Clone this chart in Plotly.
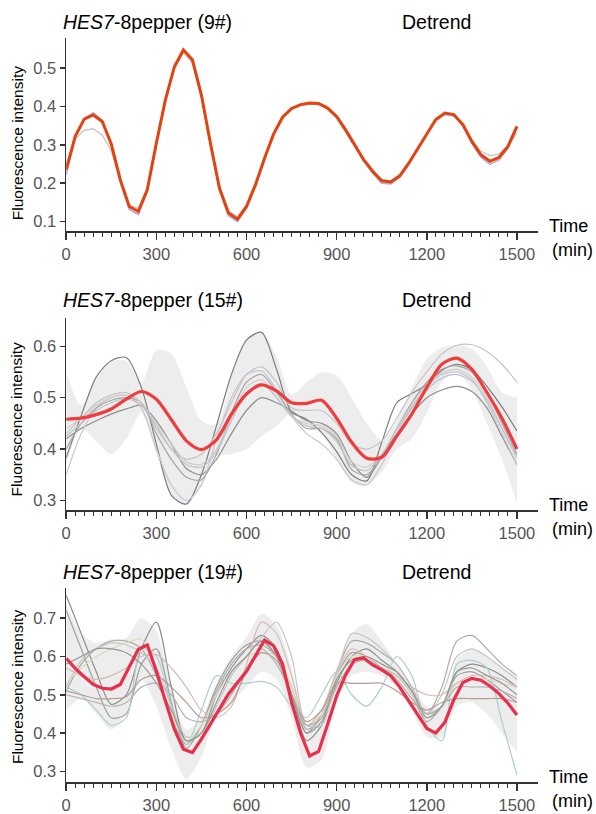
import plotly.graph_objects as go

W, H = 596, 814

# ---------------- data ----------------
TIME_30 = list(range(0, 1501, 30))
TIME_50 = list(range(0, 1501, 50))
X_TICKS = [0, 300, 600, 900, 1200, 1500]
X_TICK_TEXT = ["0", "300", "600", "900", "1200", "1500"]

# Panel 1 (9#)
P1_MAIN = [0.235, 0.322, 0.367, 0.378, 0.361, 0.302, 0.209, 0.139, 0.126, 0.183,
           0.304, 0.417, 0.504, 0.548, 0.522, 0.430, 0.304, 0.187, 0.122, 0.106,
           0.139, 0.196, 0.265, 0.328, 0.372, 0.395, 0.405, 0.409, 0.408, 0.396,
           0.374, 0.339, 0.300, 0.261, 0.231, 0.206, 0.203, 0.219, 0.252, 0.290,
           0.331, 0.366, 0.383, 0.379, 0.353, 0.309, 0.274, 0.257, 0.267, 0.296, 0.348]
P1_GRAY = [0.250, 0.315, 0.338, 0.342, 0.326, 0.285, 0.205, 0.142, 0.134, 0.185,
           0.300, 0.412, 0.498, 0.540, 0.515, 0.425, 0.302, 0.190, 0.128, 0.112,
           0.142, 0.197, 0.265, 0.327, 0.370, 0.393, 0.403, 0.406, 0.405, 0.393,
           0.372, 0.337, 0.299, 0.261, 0.232, 0.209, 0.206, 0.221, 0.253, 0.290,
           0.330, 0.363, 0.378, 0.375, 0.352, 0.312, 0.283, 0.272, 0.276, 0.298, 0.330]
P1_PURPLE = [0.222, 0.318, 0.368, 0.384, 0.364, 0.300, 0.203, 0.131, 0.118, 0.178,
             0.302, 0.416, 0.503, 0.546, 0.520, 0.427, 0.300, 0.182, 0.115, 0.100,
             0.134, 0.192, 0.262, 0.326, 0.370, 0.393, 0.404, 0.408, 0.407, 0.394,
             0.371, 0.335, 0.296, 0.257, 0.226, 0.200, 0.198, 0.215, 0.249, 0.288,
             0.329, 0.364, 0.381, 0.376, 0.349, 0.304, 0.268, 0.249, 0.260, 0.291, 0.345]

# Panel 2 (15#)
P2_MEAN = [0.458, 0.460, 0.467, 0.478, 0.497, 0.512, 0.497, 0.457, 0.416, 0.399,
           0.418, 0.468, 0.507, 0.525, 0.513, 0.490, 0.489, 0.495, 0.460, 0.413,
           0.382, 0.384, 0.425, 0.468, 0.520, 0.565, 0.577, 0.555, 0.510, 0.460, 0.400]
P2_UPPER = [0.550, 0.485, 0.535, 0.570, 0.572, 0.530, 0.592, 0.585, 0.520, 0.455,
            0.448, 0.540, 0.615, 0.628, 0.580, 0.506, 0.530, 0.549, 0.543, 0.500,
            0.450, 0.418, 0.455, 0.520, 0.575, 0.598, 0.602, 0.595, 0.560, 0.510, 0.500]
P2_LOWER = [0.370, 0.440, 0.415, 0.390, 0.420, 0.470, 0.390, 0.310, 0.290, 0.330,
            0.385, 0.390, 0.400, 0.425, 0.445, 0.470, 0.445, 0.430, 0.380, 0.335,
            0.330, 0.355, 0.400, 0.420, 0.470, 0.530, 0.550, 0.515, 0.450, 0.380, 0.295]
P2_LINES = {
    "#7c7c7c": [0.383, 0.465, 0.540, 0.572, 0.578, 0.520, 0.410, 0.310, 0.293, 0.350,
                0.445, 0.545, 0.612, 0.627, 0.555, 0.472, 0.458, 0.432, 0.395, 0.350,
                0.338, 0.413, 0.490, 0.508, 0.525, 0.553, 0.565, 0.555, 0.522, 0.482, 0.435],
    "#8e8e8e": [0.420, 0.440, 0.455, 0.468, 0.478, 0.485, 0.455, 0.410, 0.362, 0.350,
                0.380, 0.430, 0.475, 0.500, 0.490, 0.474, 0.455, 0.450, 0.430, 0.375,
                0.345, 0.385, 0.430, 0.468, 0.500, 0.515, 0.522, 0.512, 0.480, 0.425, 0.370],
    "#c4c4c4": [0.430, 0.460, 0.490, 0.505, 0.510, 0.490, 0.440, 0.400, 0.380, 0.390,
                0.430, 0.490, 0.545, 0.560, 0.530, 0.480, 0.475, 0.475, 0.450, 0.410,
                0.400, 0.415, 0.460, 0.510, 0.550, 0.585, 0.602, 0.603, 0.590, 0.565, 0.530],
    "#cbc3d2": [0.350, 0.430, 0.480, 0.500, 0.505, 0.480, 0.400, 0.330, 0.300, 0.330,
                0.420, 0.500, 0.545, 0.552, 0.515, 0.465, 0.430, 0.410, 0.380, 0.340,
                0.330, 0.370, 0.430, 0.480, 0.520, 0.545, 0.550, 0.535, 0.490, 0.430, 0.370],
    "#a4a4a4": [0.400, 0.450, 0.480, 0.495, 0.500, 0.490, 0.430, 0.380, 0.345, 0.340,
                0.390, 0.470, 0.530, 0.545, 0.510, 0.468, 0.440, 0.440, 0.420, 0.360,
                0.350, 0.385, 0.440, 0.490, 0.530, 0.555, 0.562, 0.550, 0.510, 0.450, 0.390],
    "#d2ccc4": [0.440, 0.460, 0.485, 0.500, 0.505, 0.490, 0.450, 0.410, 0.375, 0.370,
                0.400, 0.460, 0.520, 0.535, 0.500, 0.463, 0.450, 0.445, 0.425, 0.375,
                0.365, 0.390, 0.440, 0.485, 0.525, 0.548, 0.555, 0.540, 0.500, 0.440, 0.380],
    "#bcc2cf": [0.425, 0.450, 0.475, 0.490, 0.498, 0.485, 0.445, 0.400, 0.370, 0.365,
                0.395, 0.455, 0.510, 0.528, 0.500, 0.466, 0.445, 0.440, 0.415, 0.368,
                0.358, 0.388, 0.438, 0.480, 0.515, 0.538, 0.545, 0.532, 0.495, 0.440, 0.385],
}

# Panel 3 (19#)
P3_MEAN = [0.595, 0.569, 0.547, 0.527, 0.517, 0.515, 0.527, 0.571, 0.619, 0.630,
           0.562, 0.484, 0.410, 0.358, 0.349, 0.384, 0.423, 0.462, 0.502, 0.532,
           0.561, 0.602, 0.643, 0.628, 0.580, 0.480, 0.400, 0.340, 0.352, 0.423,
           0.497, 0.552, 0.592, 0.596, 0.578, 0.565, 0.550, 0.520, 0.485, 0.448,
           0.412, 0.400, 0.428, 0.487, 0.532, 0.543, 0.538, 0.523, 0.503, 0.478, 0.447]
P3_UPPER = [0.740, 0.660, 0.635, 0.645, 0.648, 0.700, 0.665, 0.520, 0.410, 0.440,
            0.530, 0.600, 0.650, 0.712, 0.680, 0.570, 0.420, 0.440, 0.570, 0.660,
            0.685, 0.640, 0.580, 0.520, 0.470, 0.470, 0.590, 0.620, 0.600, 0.570, 0.550]
P3_LOWER = [0.460, 0.490, 0.450, 0.410, 0.450, 0.540, 0.470, 0.360, 0.280, 0.340,
            0.440, 0.480, 0.520, 0.560, 0.540, 0.440, 0.310, 0.330, 0.480, 0.550,
            0.560, 0.550, 0.520, 0.460, 0.390, 0.390, 0.470, 0.480, 0.450, 0.400, 0.350]
P3_LINES = {
    "#8e8e8e": [0.760, 0.660, 0.560, 0.475, 0.500, 0.620, 0.690, 0.520, 0.380, 0.400,
                0.500, 0.570, 0.620, 0.655, 0.620, 0.500, 0.380, 0.420, 0.530, 0.600,
                0.620, 0.590, 0.560, 0.510, 0.450, 0.470, 0.560, 0.580, 0.570, 0.550, 0.520],
    "#a0a0a0": [0.720, 0.620, 0.520, 0.440, 0.450, 0.580, 0.620, 0.480, 0.360, 0.420,
                0.520, 0.590, 0.630, 0.640, 0.600, 0.490, 0.400, 0.450, 0.550, 0.610,
                0.600, 0.570, 0.550, 0.500, 0.430, 0.470, 0.550, 0.560, 0.540, 0.510, 0.480],
    "#aaaaaa": [0.510, 0.580, 0.620, 0.640, 0.640, 0.620, 0.550, 0.440, 0.370, 0.420,
                0.510, 0.580, 0.620, 0.630, 0.600, 0.520, 0.410, 0.440, 0.560, 0.640,
                0.635, 0.610, 0.580, 0.520, 0.450, 0.520, 0.640, 0.655, 0.620, 0.580, 0.550],
    "#c6c6c6": [0.520, 0.590, 0.620, 0.635, 0.630, 0.610, 0.570, 0.470, 0.390, 0.400,
                0.470, 0.550, 0.600, 0.650, 0.690, 0.600, 0.420, 0.420, 0.550, 0.660,
                0.650, 0.620, 0.580, 0.520, 0.450, 0.500, 0.600, 0.620, 0.600, 0.570, 0.540],
    "#aacfcf": [0.520, 0.500, 0.460, 0.420, 0.440, 0.620, 0.600, 0.470, 0.370, 0.460,
                0.550, 0.530, 0.530, 0.535, 0.520, 0.470, 0.440, 0.500, 0.560, 0.500,
                0.470, 0.520, 0.600, 0.550, 0.420, 0.380, 0.580, 0.590, 0.570, 0.430, 0.290],
    "#dedcb4": [0.530, 0.570, 0.600, 0.620, 0.635, 0.645, 0.560, 0.450, 0.380, 0.420,
                0.500, 0.560, 0.600, 0.610, 0.600, 0.520, 0.420, 0.450, 0.550, 0.600,
                0.600, 0.580, 0.550, 0.500, 0.440, 0.470, 0.530, 0.540, 0.540, 0.530, 0.520],
    "#d6bcb6": [0.570, 0.550, 0.540, 0.550, 0.570, 0.600, 0.605, 0.570, 0.520, 0.460,
                0.440, 0.470, 0.580, 0.690, 0.660, 0.550, 0.420, 0.460, 0.560, 0.620,
                0.600, 0.570, 0.550, 0.520, 0.500, 0.500, 0.530, 0.550, 0.550, 0.540, 0.520],
    "#b89a92": [0.510, 0.500, 0.490, 0.490, 0.495, 0.540, 0.550, 0.520, 0.480, 0.440,
                0.450, 0.480, 0.560, 0.610, 0.590, 0.500, 0.430, 0.460, 0.530, 0.530,
                0.530, 0.530, 0.510, 0.480, 0.460, 0.480, 0.490, 0.490, 0.490, 0.490, 0.480],
    "#b4b4b4": [0.500, 0.490, 0.480, 0.470, 0.480, 0.520, 0.530, 0.500, 0.440, 0.430,
                0.450, 0.500, 0.570, 0.620, 0.580, 0.500, 0.420, 0.440, 0.520, 0.580,
                0.590, 0.570, 0.540, 0.490, 0.450, 0.470, 0.520, 0.520, 0.520, 0.510, 0.490],
    "#989898": [0.580, 0.600, 0.620, 0.620, 0.610, 0.580, 0.530, 0.460, 0.380, 0.400,
                0.480, 0.560, 0.600, 0.640, 0.600, 0.500, 0.400, 0.430, 0.540, 0.590,
                0.600, 0.580, 0.560, 0.510, 0.440, 0.470, 0.560, 0.570, 0.550, 0.530, 0.500],
}

# ---------------- layout helpers ----------------
FONT = "Liberation Sans, Arial, sans-serif"
AX = "#333333"
TICKC = "#555555"
X_DOMAIN = [61.7 / W, 537.5 / W]

def py(p):
    return 1 - p / H

panels = [
    dict(top=38.3, bot=231.7, yr=[0.0739, 0.5783], yt=[0.1, 0.2, 0.3, 0.4, 0.5], name="9#", ty=22, yc=143.5),
    dict(top=318.3, bot=511.0, yr=[0.2806, 0.6552], yt=[0.3, 0.4, 0.5, 0.6], name="15#", ty=300, yc=420),
    dict(top=588.3, bot=783.3, yr=[0.2713, 0.7800], yt=[0.3, 0.4, 0.5, 0.6, 0.7], name="19#", ty=573, yc=688),
]

fig = go.Figure()

def add_line(i, x, y, color, width, shape="linear"):
    fig.add_trace(go.Scatter(x=x, y=y, mode="lines",
                             line=dict(color=color, width=width, shape=shape, smoothing=0.8),
                             xaxis=f"x{i}" if i > 1 else "x", yaxis=f"y{i}" if i > 1 else "y",
                             hoverinfo="skip", showlegend=False))

def add_band(i, x, lo, hi):
    xa = f"x{i}" if i > 1 else "x"
    ya = f"y{i}" if i > 1 else "y"
    fig.add_trace(go.Scatter(x=x, y=lo, mode="lines", line=dict(width=0, shape="spline", smoothing=0.8),
                             xaxis=xa, yaxis=ya, hoverinfo="skip", showlegend=False))
    fig.add_trace(go.Scatter(x=x, y=hi, mode="lines", line=dict(width=0, shape="spline", smoothing=0.8),
                             fill="tonexty", fillcolor="#ededed",
                             xaxis=xa, yaxis=ya, hoverinfo="skip", showlegend=False))

# Panel 1
add_line(1, TIME_30, P1_GRAY, "#c4c4c4", 1.3)
add_line(1, TIME_30, P1_PURPLE, "#b7a9d6", 1.6)
add_line(1, TIME_30, P1_MAIN, "#e2430f", 3)

# Panel 2
add_band(2, TIME_50, P2_LOWER, P2_UPPER)
for c, v in P2_LINES.items():
    add_line(2, TIME_50, v, c, 1.2, "spline")
add_line(2, TIME_50, P2_MEAN, "#f03c3c", 3.2, "spline")

# Panel 3
add_band(3, TIME_50, P3_LOWER, P3_UPPER)
for c, v in P3_LINES.items():
    add_line(3, TIME_50, v, c, 1.2, "spline")
add_line(3, TIME_30, P3_MEAN, "#ea2f4b", 3.2)

layout = dict(width=W, height=H, margin=dict(l=0, r=0, t=0, b=0),
              paper_bgcolor="white", plot_bgcolor="white", showlegend=False,
              font=dict(family=FONT))
annotations = []
for k, p in enumerate(panels, start=1):
    sx = "" if k == 1 else str(k)
    layout["xaxis" + sx] = dict(
        domain=X_DOMAIN, range=[0, 1570], anchor="y" + sx, showline=True,
        linecolor=AX, linewidth=1.6, ticks="outside", ticklen=7, tickwidth=1.5, tickcolor=AX,
        tickmode="array", tickvals=X_TICKS, ticktext=X_TICK_TEXT,
        tickfont=dict(size=16.5, color=TICKC, family=FONT),
        showgrid=False, zeroline=False, fixedrange=True,
        minor=dict(tickmode="array", tickvals=TIME_30, ticks="outside", ticklen=4,
                   tickwidth=1, tickcolor=AX, showgrid=False))
    layout["yaxis" + sx] = dict(
        domain=[py(p["bot"]), py(p["top"])], range=p["yr"], anchor="x" + sx, showline=True,
        linecolor=AX, linewidth=1.6, ticks="outside", ticklen=5, tickwidth=1.5, tickcolor=AX,
        tickmode="array", tickvals=p["yt"], ticktext=[f"{t:.1f}" for t in p["yt"]],
        tickfont=dict(size=16.5, color=TICKC, family=FONT),
        showgrid=False, zeroline=False, fixedrange=True)
    annotations += [
        dict(text="<i>HES7</i>-8pepper (" + p["name"] + ")", x=56 / W, y=py(p["ty"]),
             xref="paper", yref="paper", xanchor="left", yanchor="middle", showarrow=False,
             font=dict(size=19.5, color="black", family=FONT)),
        dict(text="Detrend", x=435 / W, y=py(p["ty"]), xref="paper", yref="paper",
             xanchor="center", yanchor="middle", showarrow=False,
             font=dict(size=19.5, color="black", family=FONT)),
        dict(text="Fluorescence intensity", x=12 / W, y=py(p["yc"]), xref="paper", yref="paper",
             xanchor="center", yanchor="middle", textangle=-90, showarrow=False,
             font=dict(size=15.5, color="black", family=FONT)),
        dict(text="Time", x=568 / W, y=py(p["bot"] - 5), xref="paper", yref="paper",
             xanchor="center", yanchor="middle", showarrow=False,
             font=dict(size=18, color="black", family=FONT)),
        dict(text="(min)", x=572 / W, y=py(p["bot"] + 19), xref="paper", yref="paper",
             xanchor="center", yanchor="middle", showarrow=False,
             font=dict(size=18, color="black", family=FONT)),
    ]
layout["annotations"] = annotations
fig.update_layout(**layout)
fig.write_html("out.html", config={"displayModeBar": False, "staticPlot": True},
               post_script="document.body.style.margin='0px';document.body.style.overflow='hidden';")
